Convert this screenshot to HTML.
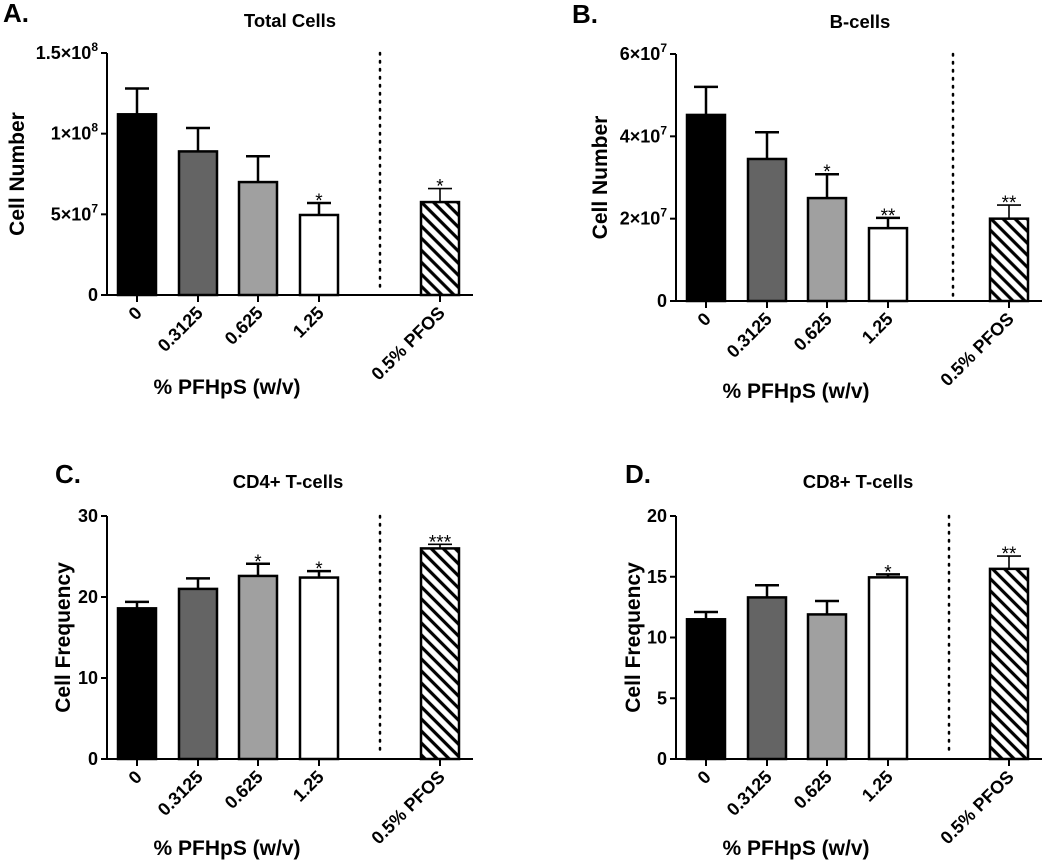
<!DOCTYPE html>
<html><head><meta charset="utf-8"><style>
body{margin:0;background:#fff}
svg{display:block;font-family:"Liberation Sans",Arial,sans-serif;font-weight:bold}
</style></head><body>
<svg id="fig" width="1050" height="860" viewBox="0 0 1050 860" xmlns="http://www.w3.org/2000/svg">
<defs>
<pattern id="hatch" width="8.5" height="8.5" patternUnits="userSpaceOnUse" patternTransform="rotate(-45)">
<rect width="8.5" height="8.5" fill="#fff"/><line x1="2" y1="0" x2="2" y2="8.5" stroke="#000" stroke-width="3.2"/>
</pattern>
</defs>
</svg>
<script>
const categories = ["0","0.3125","0.625","1.25","0.5% PFOS"];
const totalMeans = [1.12e8, 0.89e8, 0.70e8, 0.496e8, 0.576e8];
const totalErrs  = [1.28e8, 1.035e8, 0.86e8, 0.57e8, 0.66e8];
const totalStars = ["","","","*","*"];
const bMeans = [4.52e7, 3.45e7, 2.5e7, 1.77e7, 2.0e7];
const bErrs  = [5.2e7, 4.1e7, 3.08e7, 2.02e7, 2.33e7];
const bStars = ["","","*","**","**"];
const cd4Means = [18.6, 21.0, 22.6, 22.4, 26.0];
const cd4Errs  = [19.4, 22.3, 24.1, 23.2, 26.5];
const cd4Stars = ["","","*","*","***"];
const cd8Means = [11.5, 13.3, 11.9, 14.95, 15.65];
const cd8Errs  = [12.1, 14.3, 13.0, 15.2, 16.7];
const cd8Stars = ["","","","*","**"];
const totalTicks = [0, 5e7, 1e8, 1.5e8];
const totalTickLabels = [["0",""],["5×10","7"],["1×10","8"],["1.5×10","8"]];
const bTicks = [0, 2e7, 4e7, 6e7];
const bTickLabels = [["0",""],["2×10","7"],["4×10","7"],["6×10","7"]];
const cd4Ticks = [0,10,20,30];
const cd4TickLabels = [["0",""],["10",""],["20",""],["30",""]];
const cd8Ticks = [0,5,10,15,20];
const cd8TickLabels = [["0",""],["5",""],["10",""],["15",""],["20",""]];

const NS="http://www.w3.org/2000/svg";
const svg=document.getElementById('fig');
const fills=["#000","#646464","#a0a0a0","#fff","url(#hatch)"];
const centerOff=[30,91,151,212,333];
function mk(tag,attrs,parent){const e=document.createElementNS(NS,tag);for(const k in attrs)e.setAttribute(k,attrs[k]);(parent||svg).appendChild(e);return e;}

function panel(p){
  const g=mk('g',{});
  
  
  const ox=p.ox, top=p.top, zero=p.zero, max=p.ticks[p.ticks.length-1];
  const y=v=>zero-(v/max)*(zero-top);
  const x=i=>ox+centerOff[i];
  const letter=mk('text',{x:p.lx,y:p.ly,'font-size':26},g);letter.textContent=p.letter;
  
  
  const t=mk('text',{x:p.tx,y:p.ly+5,'font-size':18.5,'text-anchor':'middle'},g);t.textContent=p.title;
  
  
  p.means.forEach((m,i)=>{
    const cx=x(i);
    const eb=mk('g',{},g);
    
    
    const sw=i===4?1.6:2.5;
    mk('line',{x1:cx,x2:cx,y1:y(m),y2:y(p.errs[i]),stroke:'#000','stroke-width':sw},eb);
    mk('line',{x1:cx-12,x2:cx+12,y1:y(p.errs[i]),y2:y(p.errs[i]),stroke:'#000','stroke-width':sw},eb);
    const r=mk('rect',{x:cx-19,y:y(m),width:38,height:zero-y(m),fill:fills[i],stroke:'#000','stroke-width':2.5},g);
    
    
    if(p.stars[i]){
      const s=mk('text',{x:cx,y:y(p.errs[i])+4,'font-size':19,'font-weight':'normal','text-anchor':'middle'},g);
      s.textContent=p.stars[i];
      
      
    }
    mk('line',{x1:cx,x2:cx,y1:zero,y2:zero+7,stroke:'#000','stroke-width':2},g);
    const lbl=mk('text',{transform:`translate(${cx+6},${zero+19}) rotate(-45)`,'font-size':18,'text-anchor':'end'},g);
    lbl.textContent=categories[i];
    
    
  });
  mk('line',{x1:ox,x2:ox,y1:top,y2:zero+1,stroke:'#000','stroke-width':2},g);
  mk('line',{x1:ox-1,x2:ox+366,y1:zero,y2:zero,stroke:'#000','stroke-width':2},g);
  p.ticks.forEach((v,i)=>{
    mk('line',{x1:ox-6,x2:ox,y1:y(v),y2:y(v),stroke:'#000','stroke-width':2},g);
    const tl=mk('text',{x:ox-9,y:y(v)+6,'font-size':18,'text-anchor':'end'},g);
    
    
    const lab=p.tickLabels[i];
    if(lab[1]){
      const a=mk('tspan',{},tl);a.textContent=lab[0];
      const b=mk('tspan',{dy:-8,'font-size':12},tl);b.textContent=lab[1];
    } else tl.textContent=lab[0];
  });
  const d=mk('line',{x1:ox+p.dot,x2:ox+p.dot,y1:top,y2:zero-4,stroke:'#000','stroke-width':2.5,'stroke-dasharray':'1.5 6.5','stroke-linecap':'round'},g);
  
  
  const yt=mk('text',{transform:`translate(${p.yx+7},${(top+zero)/2}) rotate(-90)`,'font-size':21,'text-anchor':'middle'},g);
  yt.textContent=p.ytitle;
  
  
  const xt=mk('text',{x:ox+120,y:p.xty,'font-size':21,'text-anchor':'middle'},g);
  xt.textContent="% PFHpS (w/v)";
  
  
}
panel({name:'panel-a-total-cells',letter:'A.',lx:3,ly:22,tx:290,title:'Total Cells',ox:107,top:53,zero:295,ticks:totalTicks,tickLabels:totalTickLabels,means:totalMeans,errs:totalErrs,stars:totalStars,dot:273,yx:17,ytitle:'Cell Number',xty:394});
panel({name:'panel-b-b-cells',letter:'B.',lx:572,ly:23,tx:860,title:'B-cells',ox:676,top:54,zero:301,ticks:bTicks,tickLabels:bTickLabels,means:bMeans,errs:bErrs,stars:bStars,dot:277,yx:600,ytitle:'Cell Number',xty:398});
panel({name:'panel-c-cd4',letter:'C.',lx:55,ly:483,tx:288,title:'CD4+ T-cells',ox:107,top:516,zero:759,ticks:cd4Ticks,tickLabels:cd4TickLabels,means:cd4Means,errs:cd4Errs,stars:cd4Stars,dot:273,yx:63,ytitle:'Cell Frequency',xty:855});
panel({name:'panel-d-cd8',letter:'D.',lx:625,ly:483,tx:858,title:'CD8+ T-cells',ox:676,top:516,zero:759,ticks:cd8Ticks,tickLabels:cd8TickLabels,means:cd8Means,errs:cd8Errs,stars:cd8Stars,dot:273,yx:633,ytitle:'Cell Frequency',xty:855});
</script>
</body></html>
